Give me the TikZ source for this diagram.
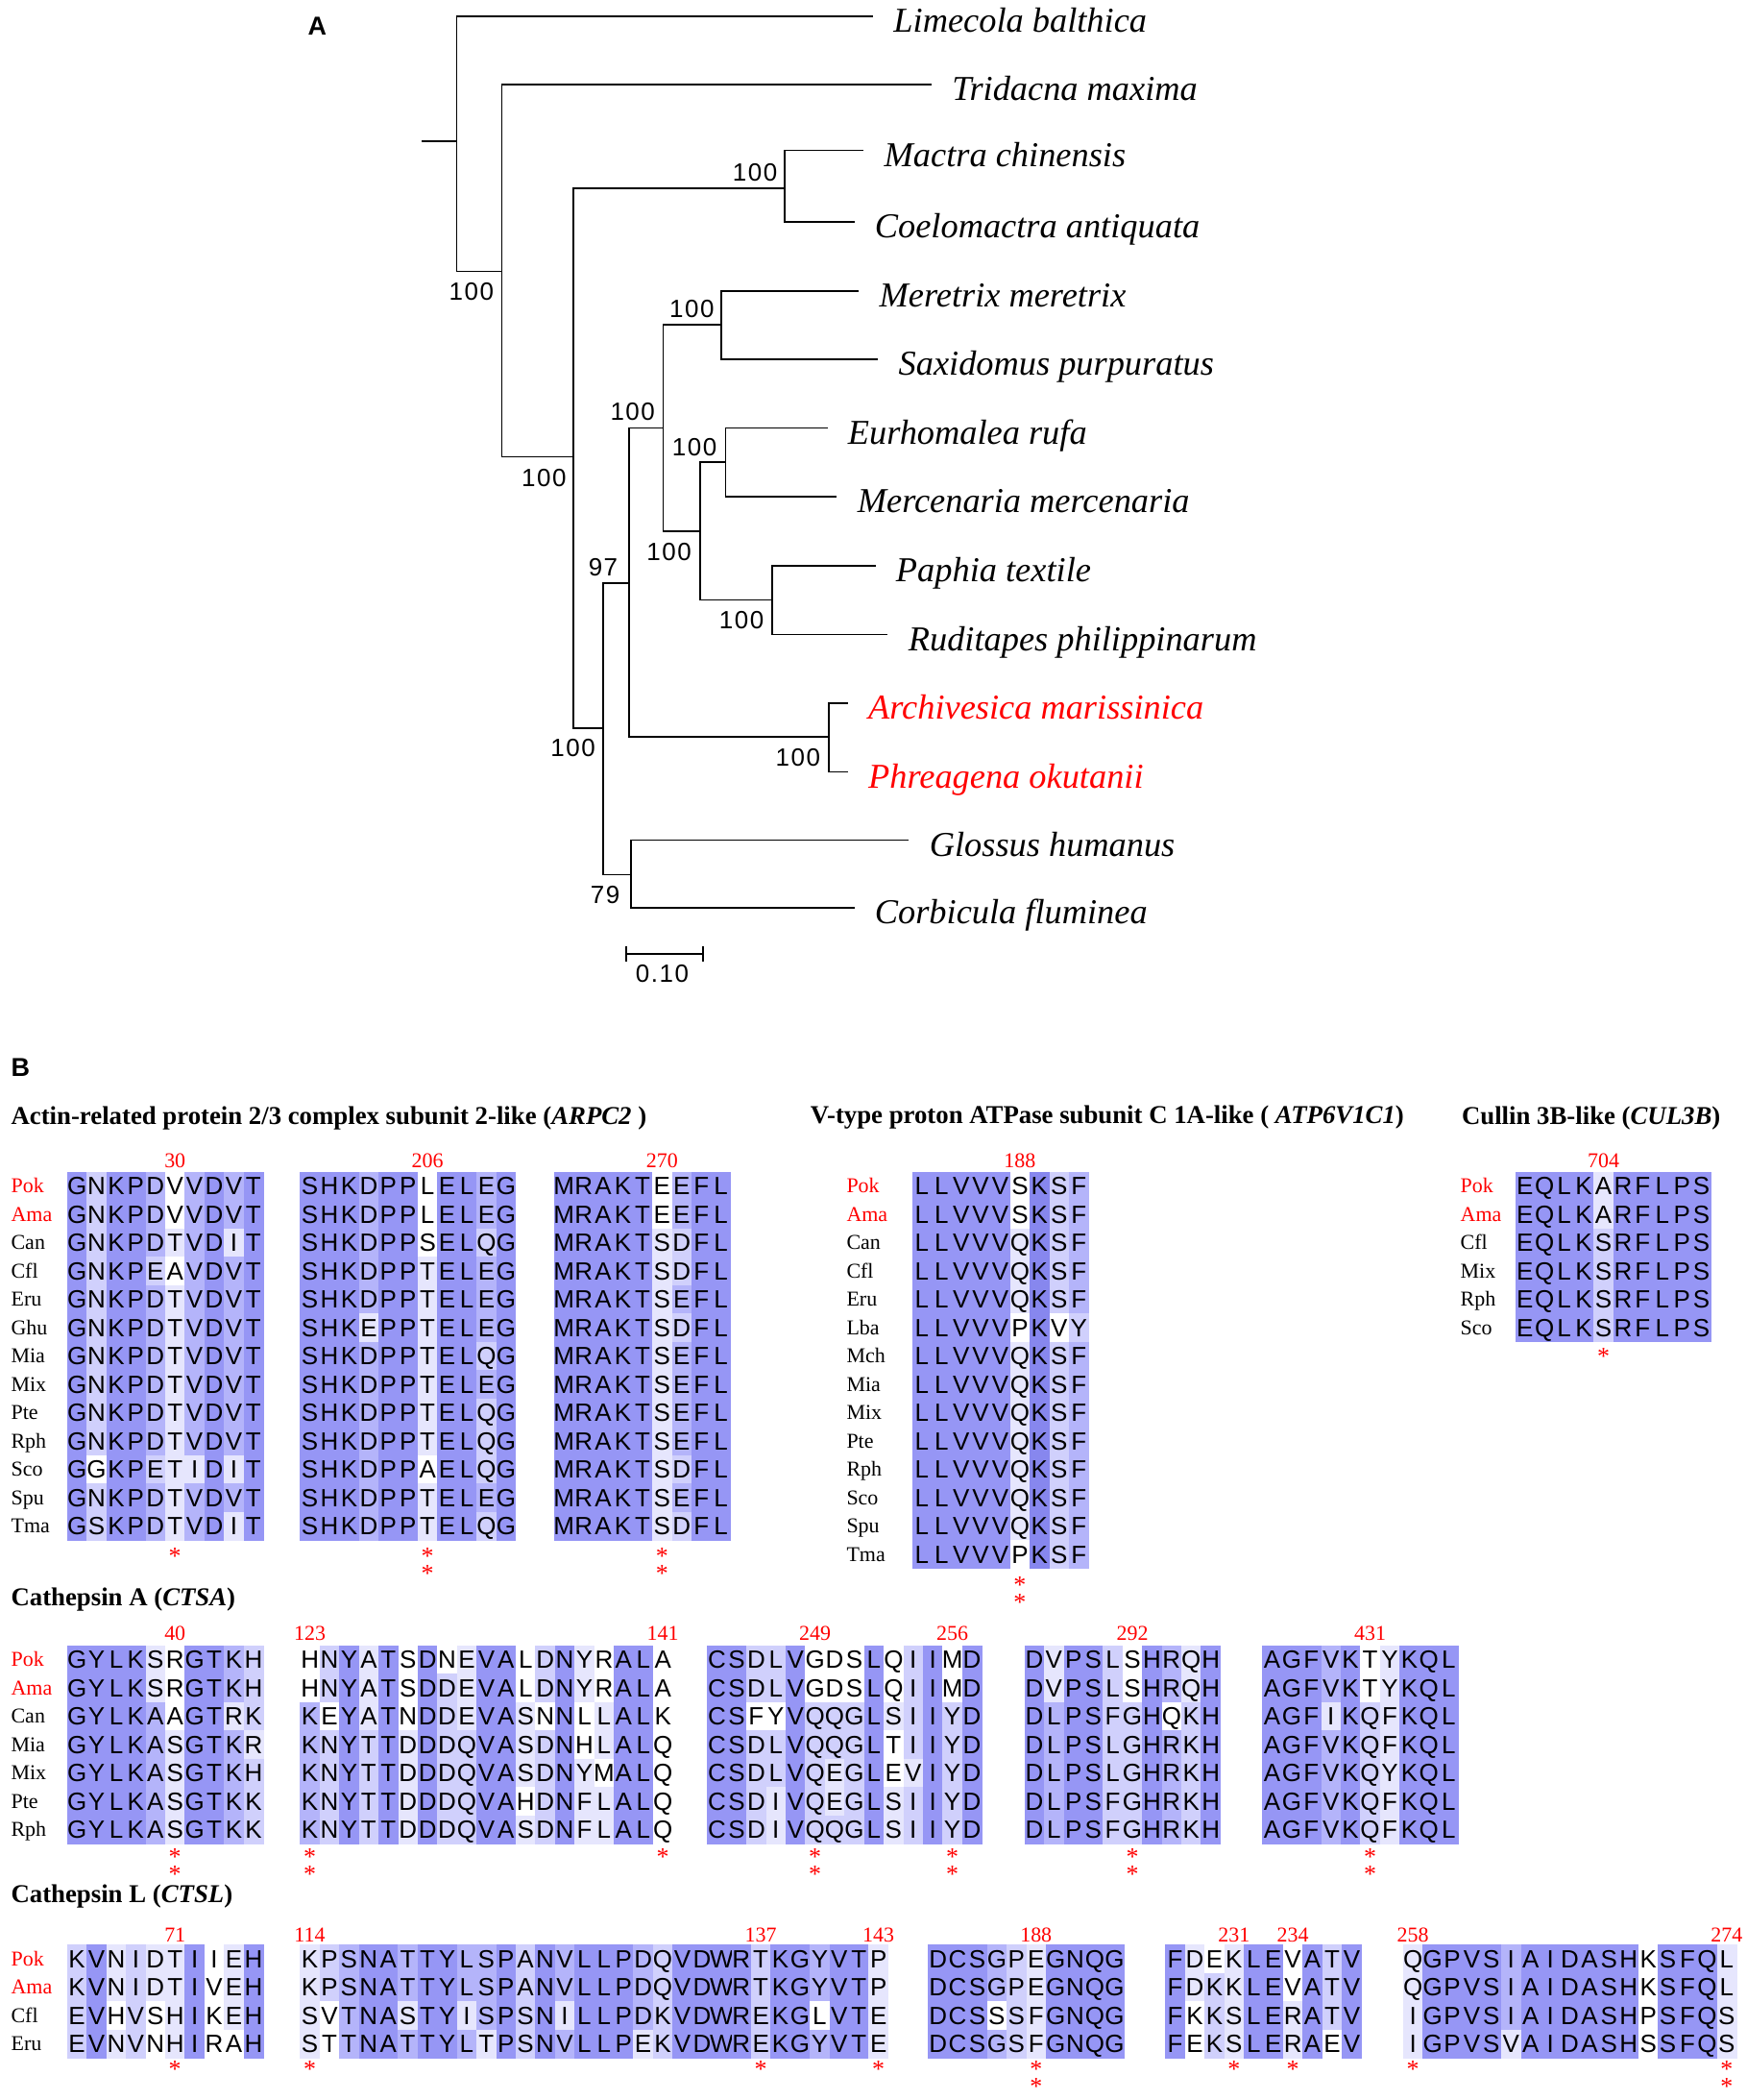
\documentclass[tikz,border=0pt]{standalone}
\usepackage{fontspec}
\setmainfont{Liberation Serif}
\setsansfont{Liberation Sans}
\newfontfamily\bootfont[LetterSpace=6]{Liberation Sans}
\usetikzlibrary{positioning}

% identity shading levels
\definecolor{pid5}{RGB}{135,135,238}
\definecolor{pid4}{RGB}{150,150,245}
\definecolor{pid3}{RGB}{180,180,250}
\definecolor{pid2}{RGB}{208,208,252}
\definecolor{pid1}{RGB}{230,230,253}
\definecolor{pid0}{RGB}{255,255,255}

\tikzset{
  branch/.style={line width=0.8pt},
  taxon/.style={anchor=base west, inner sep=0pt, shift={(15,12)},
    font=\itshape\fontsize{18.2}{18.2}\selectfont},
  boot/.style={inner sep=0pt, font=\bootfont\fontsize{13}{13}\selectfont},
  panellabel/.style={anchor=base west, inner sep=0pt,
    font=\sffamily\bfseries\fontsize{13.5}{13.5}\selectfont},
  sectitle/.style={anchor=base west, inner sep=0pt,
    font=\bfseries\fontsize{13.4}{13.4}\selectfont},
  res/.style={inner sep=0pt, text height=9.3pt, text depth=0pt,
    font=\sffamily\fontsize{13}{13}\selectfont},
  spname/.style={anchor=west, inner sep=0pt, text height=7.3pt, text depth=0pt,
    font=\fontsize{11}{11}\selectfont},
  posnum/.style={inner sep=0pt, text=red, font=\fontsize{11}{11}\selectfont},
  starmark/.style={anchor=north, inner sep=0pt, text=red, align=center,
    font=\fontsize{13}{9}\selectfont}
}

\def\alnw{14.6}
\def\alnh{21.1}

\makeatletter
\newcount\alncol
% one row: name, x, y, residues, shade codes
\newcommand\alnrow[5]{%
  \def\alnname{#1}\def\alnx{#2}\def\alny{#3}\alncol=0
  \aln@step#4\relax#5\relax}
\def\aln@step#1#2\relax#3#4\relax{%
  \fill[pid#3] ({\alnx+\the\alncol*\alnw},\alny) rectangle ++(\alnw+0.3,\alnh+0.3);
  \node[res] (\alnname-\the\alncol) at ({\alnx+(\the\alncol+0.5)*\alnw},{\alny+0.5*\alnh}) {#1};
  \advance\alncol by 1
  \ifx\relax#2\relax\let\aln@next\relax\else\def\aln@next{\aln@step#2\relax#4\relax}\fi
  \aln@next}
\makeatother

% block: name, x, y top, rows as residues/shades
\newcommand\alnblock[4]{%
  \foreach \sq/\sd [count=\k from 0] in {#4}{%
    \pgfmathsetmacro\alnyy{#3+\k*\alnh}%
    \edef\alntmp{\noexpand\alnrow{#1-\k}{#2}{\alnyy}{\sq}{\sd}}\alntmp}}

% species names: prefix, x, y top, names/colours
\newcommand\alnnames[4]{%
  \foreach \nm/\cl [count=\k from 0] in {#4}
    \node[spname, text=\cl] (#1-\nm) at (#2,{#3+(\k+0.5)*\alnh}) {\nm};}

% position number: name, block x, column, y, text
\newcommand\alnpos[5]{\node[posnum] (#1) at ({#2+(#3-0.5)*\alnw},#4) {#5};}

% stars: name, block x, column, y of first star, stars
\newcommand\alnstar[5]{%
  \node[starmark] (#1) at ({#2+(#3-0.5)*\alnw},{#4-4}) {\lineskiplimit=-20pt\relax #5};}

\begin{document}
\begin{tikzpicture}[x=0.7pt,y=-0.7pt]
\useasboundingbox (0,0) rectangle (1300,1563);
\fill[white] (0,0) rectangle (1300,1563);

%%% A: tree
\node[panellabel] (labA) at (229,26) {A};

\coordinate (r0) at (314,105);
\coordinate (n1) at (340,105);
\coordinate (n2) at (373.5,202);
\coordinate (n3) at (426.7,340);
\coordinate (n4) at (584.3,140);
\coordinate (n5) at (449.2,542);
\coordinate (n6) at (468.4,434);
\coordinate (n7) at (493.8,318.5);
\coordinate (n8) at (536.9,241.7);
\coordinate (n9) at (521.1,395.3);
\coordinate (n10) at (540.2,344);
\coordinate (n13) at (574.7,446.4);
\coordinate (n11) at (616.9,548.2);
\coordinate (n12) at (469.8,651);

\coordinate (tLba) at (650,12);
\coordinate (tTma) at (693.5,63);
\coordinate (tMch) at (643,112);
\coordinate (tCan) at (636,165);
\coordinate (tMme) at (639.4,216.5);
\coordinate (tSpu) at (653.7,267.5);
\coordinate (tEru) at (616,318.5);
\coordinate (tMmr) at (623.1,369.5);
\coordinate (tPte) at (651.8,421.2);
\coordinate (tRph) at (661,472.3);
\coordinate (tAma) at (631.2,523.3);
\coordinate (tPok) at (631.2,574.6);
\coordinate (tGhu) at (676.7,625.2);
\coordinate (tCfl) at (636,675.7);

\draw[branch] (r0) -- (n1);
\foreach \up/\dn in {n1/tLba,n1/n2,n2/tTma,n2/n3,n3/n4,n3/n5,n4/tMch,n4/tCan,
    n5/n6,n5/n12,n6/n7,n6/n11,n7/n8,n7/n9,n8/tMme,n8/tSpu,n9/n10,n9/n13,
    n10/tEru,n10/tMmr,n13/tPte,n13/tRph,n11/tAma,n11/tPok,n12/tGhu,n12/tCfl}
  \draw[branch] (\up) |- (\dn);

\node[taxon] (lLba) at (tLba) {Limecola balthica};
\node[taxon] (lTma) at (tTma) {Tridacna maxima};
\node[taxon] (lMch) at (tMch) {Mactra chinensis};
\node[taxon] (lCan) at (tCan) {Coelomactra antiquata};
\node[taxon] (lMme) at (tMme) {Meretrix meretrix};
\node[taxon] (lSpu) at (tSpu) {Saxidomus purpuratus};
\node[taxon] (lEru) at (tEru) {Eurhomalea rufa};
\node[taxon] (lMmr) at (tMmr) {Mercenaria mercenaria};
\node[taxon] (lPte) at (tPte) {Paphia textile};
\node[taxon] (lRph) at (tRph) {Ruditapes philippinarum};
\node[taxon, text=red] (lAma) at (tAma) {Archivesica marissinica};
\node[taxon, text=red] (lPok) at (tPok) {Phreagena okutanii};
\node[taxon] (lGhu) at (tGhu) {Glossus humanus};
\node[taxon] (lCfl) at (tCfl) {Corbicula fluminea};

% bootstrap values
\node[boot] (b1) at (351,217) {100};
\node[boot] (b2) at (405,355.5) {100};
\node[boot] (b3) at (562,128.5) {100};
\node[boot] (b4) at (515,230) {100};
\node[boot] (b5) at (471,306.5) {100};
\node[boot] (b6) at (517,333) {100};
\node[boot] (b7) at (498,410.5) {100};
\node[boot] (b8) at (552,461.5) {100};
\node[boot] (b9) at (449,422) {97};
\node[boot] (b10) at (426.5,557) {100};
\node[boot] (b11) at (594,564) {100};
\node[boot] (b12) at (450.5,666) {79};

% scale bar
\coordinate (sb0) at (466,710);
\coordinate (sb1) at (523.5,710);
\draw[branch] (sb0) -- (sb1);
\draw[branch] ([yshift=4pt]sb0) -- ([yshift=-4pt]sb0);
\draw[branch] ([yshift=4pt]sb1) -- ([yshift=-4pt]sb1);
\node[boot] (sbl) at (493,725) {0.10};

%%% B: alignments
\node[panellabel] (labB) at (8,801) {B};

% ARPC2
\node[sectitle] (tARPC) at (8,837) {Actin-related protein 2/3 complex subunit 2-like (\textit{ARPC2} )};
\alnnames{arpc}{8}{872}{Pok/red,Ama/red,Can/black,Cfl/black,Eru/black,Ghu/black,Mia/black,Mix/black,Pte/black,Rph/black,Sco/black,Spu/black,Tma/black}
\alnblock{a1}{50}{872}{GNKPDVVDVT/4244303434,
  GNKPDVVDVT/4244303434,
  GNKPDTVDIT/4244313414,
  GNKPEAVDVT/4244203434,
  GNKPDTVDVT/4244313434,
  GNKPDTVDVT/4244313434,
  GNKPDTVDVT/4244313434,
  GNKPDTVDVT/4244313434,
  GNKPDTVDVT/4244313434,
  GNKPDTVDVT/4244313434,
  GGKPETIDIT/4044211414,
  GNKPDTVDVT/4244313434,
  GSKPDTVDIT/4244313414}
\alnblock{a2}{223.4}{872}{SHKDPPLELEG/44434404434,
  SHKDPPLELEG/44434404434,
  SHKDPPSELQG/44434404424,
  SHKDPPTELEG/44434414434,
  SHKDPPTELEG/44434414434,
  SHKEPPTELEG/44414414434,
  SHKDPPTELQG/44434414424,
  SHKDPPTELEG/44434414434,
  SHKDPPTELQG/44434414424,
  SHKDPPTELQG/44434414424,
  SHKDPPAELQG/44434404424,
  SHKDPPTELEG/44434414434,
  SHKDPPTELQG/44434414424}
\alnblock{a3}{412.6}{872}{MRAKTEEFL/444440344,
  MRAKTEEFL/444440344,
  MRAKTSDFL/444441244,
  MRAKTSDFL/444441244,
  MRAKTSEFL/444441344,
  MRAKTSDFL/444441244,
  MRAKTSEFL/444441344,
  MRAKTSEFL/444441344,
  MRAKTSEFL/444441344,
  MRAKTSEFL/444441344,
  MRAKTSDFL/444441244,
  MRAKTSEFL/444441344,
  MRAKTSDFL/444441244}
\alnpos{p30}{50}{6}{864}{30}
\alnpos{p206}{223.4}{7}{864}{206}
\alnpos{p270}{412.6}{6}{864}{270}
\alnstar{s30}{50}{6}{1156}{*}
\alnstar{s206}{223.4}{7}{1156}{*\\*}
\alnstar{s270}{412.6}{6}{1156}{*\\*}

% ATP6V1C1
\node[sectitle] (tATP) at (603,836) {V-type proton ATPase subunit C 1A-like ( \textit{ATP6V1C1})};
\alnnames{atp}{630}{872}{Pok/red,Ama/red,Can/black,Cfl/black,Eru/black,Lba/black,Mch/black,Mia/black,Mix/black,Pte/black,Rph/black,Sco/black,Spu/black,Tma/black}
\alnblock{v1}{679}{872}{LLVVVSKSF/444440523,
  LLVVVSKSF/444440523,
  LLVVVQKSF/444441523,
  LLVVVQKSF/444441523,
  LLVVVQKSF/444441523,
  LLVVVPKVY/444440502,
  LLVVVQKSF/444441523,
  LLVVVQKSF/444441523,
  LLVVVQKSF/444441523,
  LLVVVQKSF/444441523,
  LLVVVQKSF/444441523,
  LLVVVQKSF/444441523,
  LLVVVQKSF/444441523,
  LLVVVPKSF/444440523}
\alnpos{p188v}{679}{6}{864}{188}
\alnstar{s188v}{679}{6}{1177.5}{*\\*}

% CUL3B
\node[sectitle] (tCUL) at (1088,837) {Cullin 3B-like (\textit{CUL3B})};
\alnnames{cul}{1087}{872}{Pok/red,Ama/red,Cfl/black,Mix/black,Rph/black,Sco/black}
\alnblock{u1}{1128}{872}{EQLKARFLPS/4444144444,
  EQLKARFLPS/4444144444,
  EQLKSRFLPS/4444244444,
  EQLKSRFLPS/4444244444,
  EQLKSRFLPS/4444244444,
  EQLKSRFLPS/4444244444}
\alnpos{p704}{1128}{5}{864}{704}
\alnstar{s704}{1128}{5}{1007}{*}

% CTSA
\node[sectitle] (tCTSA) at (8,1195) {Cathepsin A (\textit{CTSA})};
\alnnames{ctsa}{8}{1224.5}{Pok/red,Ama/red,Can/black,Mia/black,Mix/black,Pte/black,Rph/black}
\alnblock{c1}{50}{1224.5}{GYLKSRGTKH/4444104432,
  GYLKSRGTKH/4444104432,
  GYLKAAGTRK/4444304412,
  GYLKASGTKR/4444314431,
  GYLKASGTKH/4444314432,
  GYLKASGTKK/4444314432,
  GYLKASGTKK/4444314432}
\alnblock{c2}{223.4}{1224.5}{HNYATSDNEVALDNYRALA/0241404014402410440,
  HNYATSDDEVALDNYRALA/0241404214402410440,
  KEYATNDDEVASNNLLALK/3041404214410401440,
  KNYTTDDDQVASDNHLALQ/3242414224412401440,
  KNYTTDDDQVASDNYMALQ/3242414224412410440,
  KNYTTDDDQVAHDNFLALQ/3242414224402411440,
  KNYTTDDDQVASDNFLALQ/3242414224412411440}
\alnblock{c3}{526.5}{1224.5}{CSDLVGDSLQIIMD/44224000402404,
  CSDLVGDSLQIIMD/44224000402404,
  CSFYVQQGLSIIYD/44004222412424,
  CSDLVQQGLTIIYD/44224222402424,
  CSDLVQEGLEVIYD/44224212401424,
  CSDIVQEGLSIIYD/44214212412424,
  CSDIVQQGLSIIYD/44214222412424}
\alnblock{c4}{762.7}{1224.5}{DVPSLSHRQH/4144204314,
  DVPSLSHRQH/4144204314,
  DLPSFGHQKH/4344224024,
  DLPSLGHRKH/4344224324,
  DLPSLGHRKH/4344224324,
  DLPSFGHRKH/4344224324,
  DLPSFGHRKH/4344224324}
\alnblock{c5}{939.7}{1224.5}{AGFVKTYKQL/4443401444,
  AGFVKTYKQL/4443401444,
  AGFIKQFKQL/4441421444,
  AGFVKQFKQL/4443421444,
  AGFVKQYKQL/4443421444,
  AGFVKQFKQL/4443421444,
  AGFVKQFKQL/4443421444}
\alnpos{p40}{50}{6}{1216}{40}
\alnpos{p123}{223.4}{1}{1216}{123}
\alnpos{p141}{223.4}{19}{1216}{141}
\alnpos{p249}{526.5}{6}{1216}{249}
\alnpos{p256}{526.5}{13}{1216}{256}
\alnpos{p292}{762.7}{6}{1216}{292}
\alnpos{p431}{939.7}{6}{1216}{431}
\alnstar{s40}{50}{6}{1380}{*\\*}
\alnstar{s123}{223.4}{1}{1380}{*\\*}
\alnstar{s141}{223.4}{19}{1380}{*}
\alnstar{s249}{526.5}{6}{1380}{*\\*}
\alnstar{s256}{526.5}{13}{1380}{*\\*}
\alnstar{s292}{762.7}{6}{1380}{*\\*}
\alnstar{s431}{939.7}{6}{1380}{*\\*}

% CTSL
\node[sectitle] (tCTSL) at (8,1416) {Cathepsin L (\textit{CTSL})};
\alnnames{ctsl}{8}{1447.4}{Pok/red,Ama/red,Cfl/black,Eru/black}
\alnblock{l1}{50}{1447.4}{KVNIDTIIEH/2412114014,
  KVNIDTIVEH/2412114014,
  EVHVSHIKEH/2402014014,
  EVNVNHIRAH/2412014004}
\alnblock{l2}{223.3}{1447.4}{KPSNATTYLSPANVLLPDQVDWRTKGYVTP/123443443342434443244442443441,
  KPSNATTYLSPANVLLPDQVDWRTKGYVTP/123443443342434443244442443441,
  SVTNASTYISPSNILLPDKVDWREKGLVTE/103441441342414443244442440441,
  STTNATTYLTPSNVLLPEKVDWREKGYVTE/103443443142434441244442443441}
\alnblock{l3}{691}{1447.4}{DCSGPEGNQG/4443214444,
  DCSGPEGNQG/4443214444,
  DCSSSFGNQG/4440214444,
  DCSGSFGNQG/4443214444}
\alnblock{l4}{867.6}{1447.4}{FDEKLEVATV/4101440424,
  FDKKLEVATV/4121440424,
  FKKSLERATV/4021441424,
  FEKSLERAEV/4021441404}
\alnblock{l5}{1044.6}{1447.4}{QGPVSIAIDASHKSFQL/14444344444404441,
  QGPVSIAIDASHKSFQL/14444344444404441,
  IGPVSIAIDASHPSFQS/14444344444404441,
  IGPVSVAIDASHSSFQS/14444144444404441}
\alnpos{p71}{50}{6}{1440}{71}
\alnpos{p114}{223.3}{1}{1440}{114}
\alnpos{p137}{223.3}{24}{1440}{137}
\alnpos{p143}{223.3}{30}{1440}{143}
\alnpos{p188l}{691}{6}{1440}{188}
\alnpos{p231}{867.6}{4}{1440}{231}
\alnpos{p234}{867.6}{7}{1440}{234}
\alnpos{p258}{1044.6}{1}{1440}{258}
\alnpos{p274}{1044.6}{17}{1440}{274}
\alnstar{s71}{50}{6}{1538}{*}
\alnstar{s114}{223.3}{1}{1538}{*}
\alnstar{s137}{223.3}{24}{1538}{*}
\alnstar{s143}{223.3}{30}{1538}{*}
\alnstar{s188l}{691}{6}{1538}{*\\*}
\alnstar{s231}{867.6}{4}{1538}{*}
\alnstar{s234}{867.6}{7}{1538}{*}
\alnstar{s258}{1044.6}{1}{1538}{*}
\alnstar{s274}{1044.6}{17}{1538}{*\\*}
\end{tikzpicture}
\end{document}
